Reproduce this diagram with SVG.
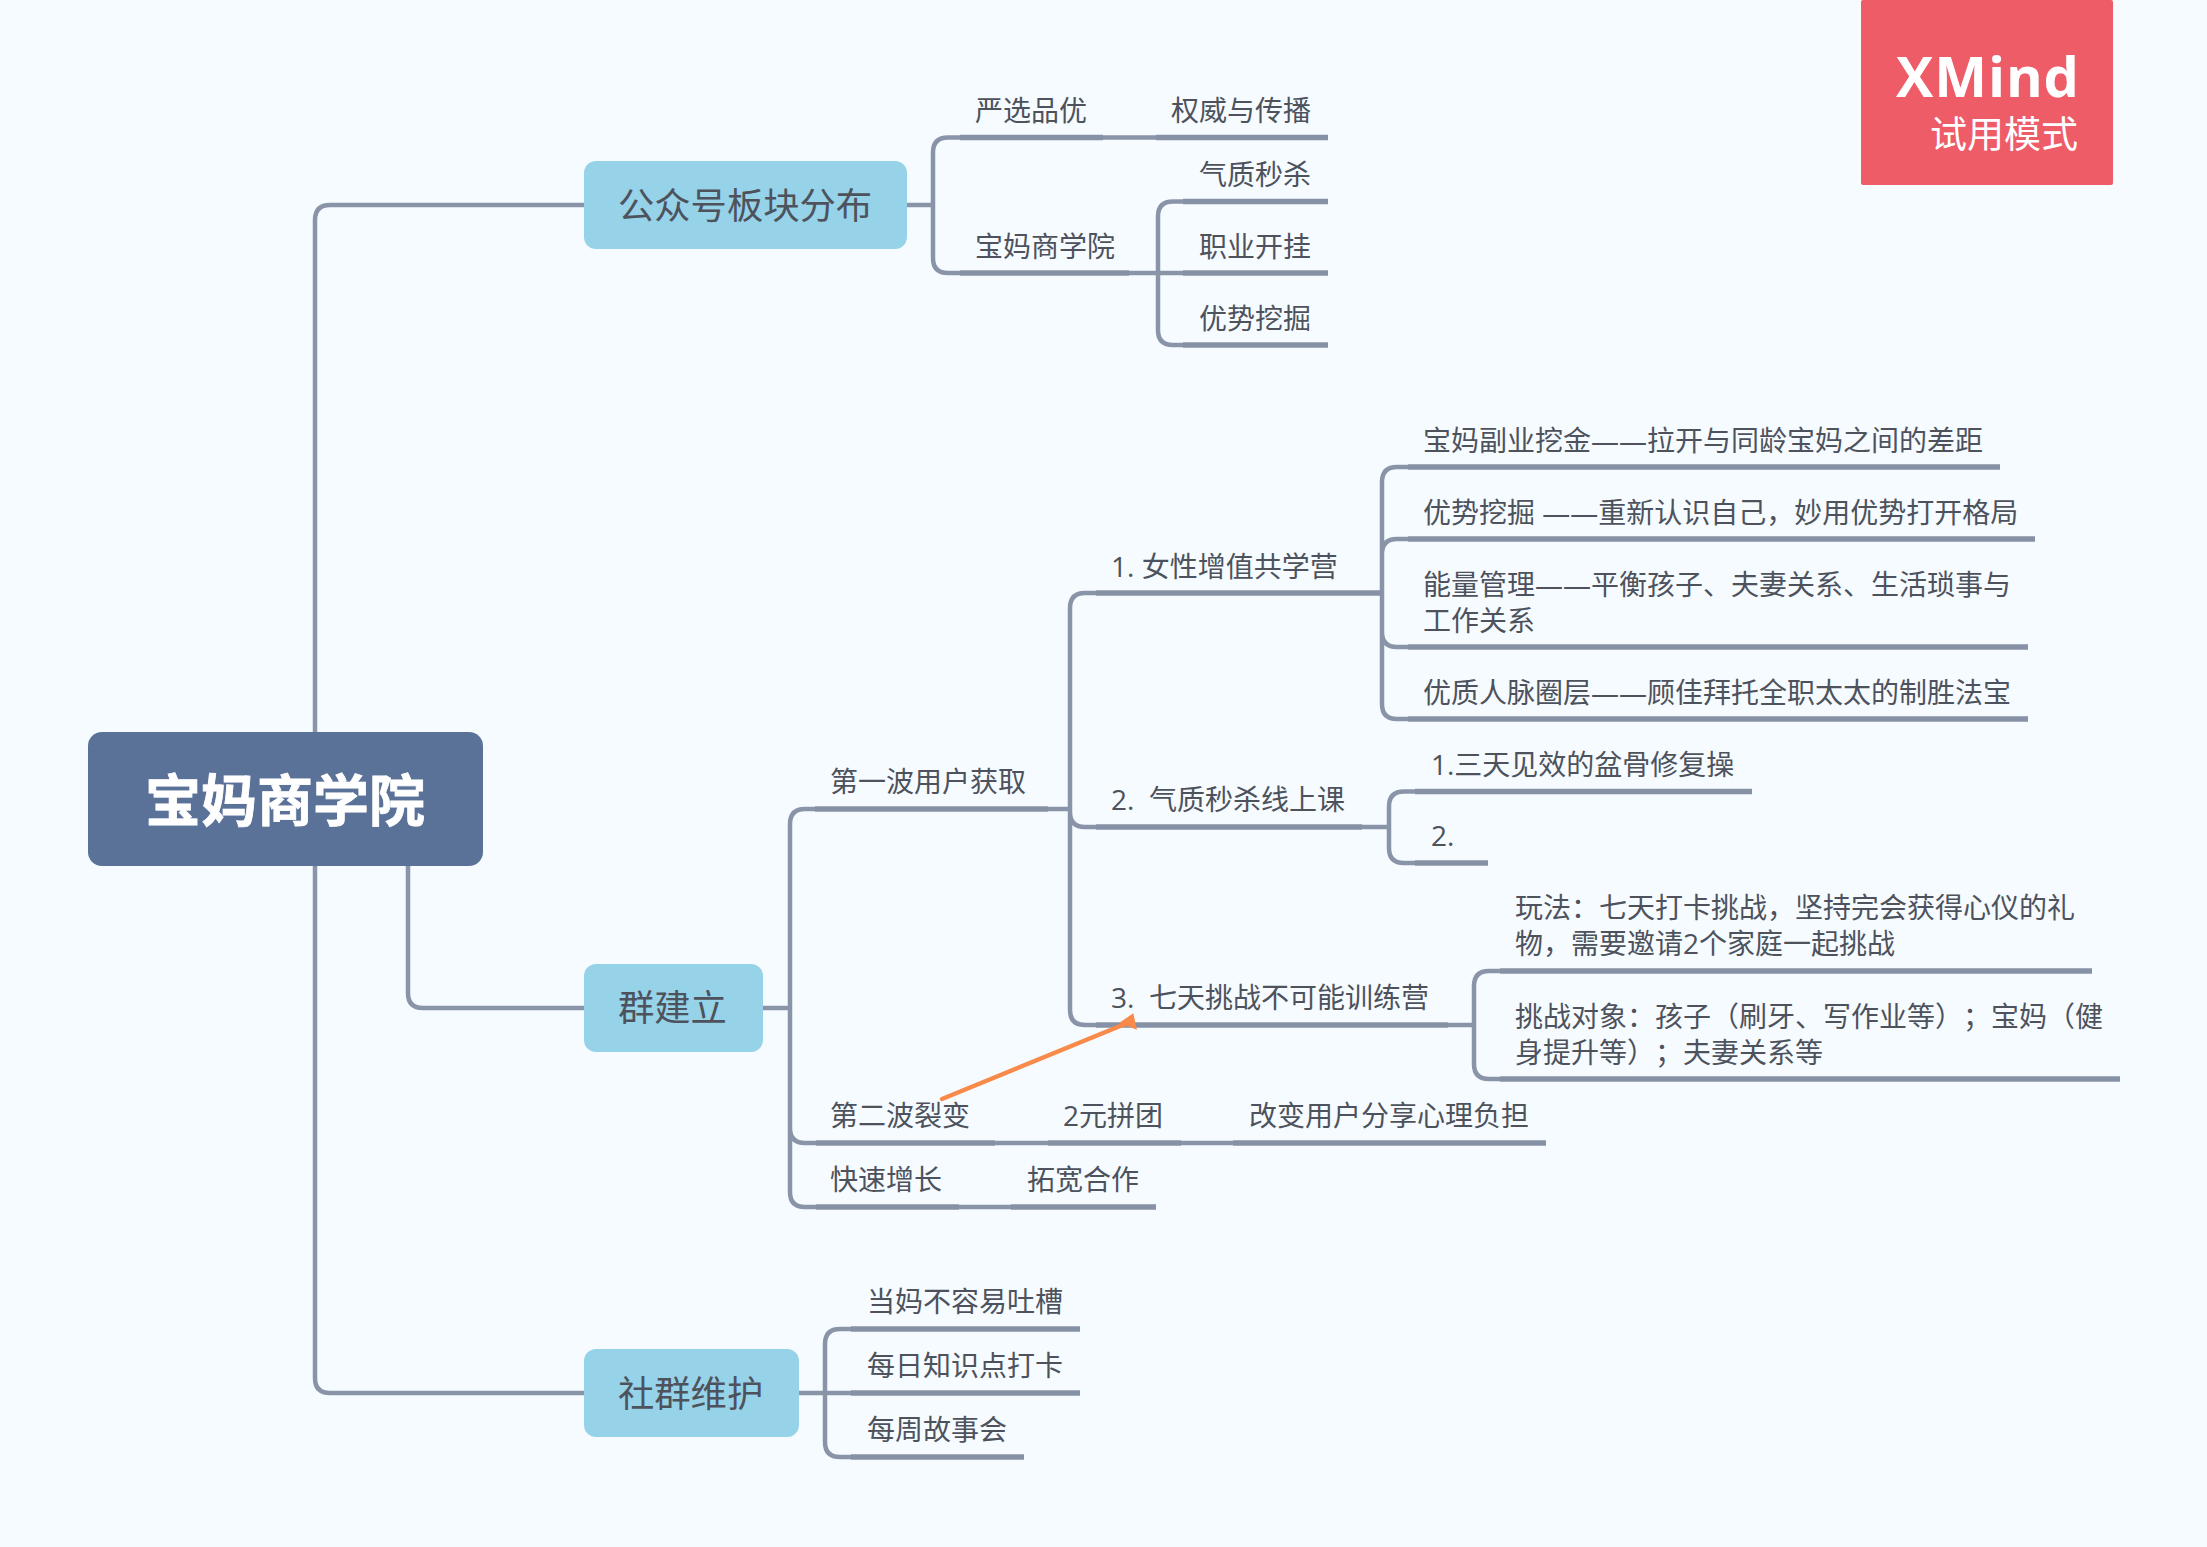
<svg xmlns="http://www.w3.org/2000/svg" width="2207" height="1547" viewBox="0 0 2207 1547">
<style>
text{font-family:"Open Sans","Noto Sans CJK SC",sans-serif;font-size:28px;fill:#4d525c;white-space:pre;text-spacing-trim:space-all}
.main{font-size:36.3px}
.root{font-size:56px;font-weight:700;fill:#fff;stroke:#fff;stroke-width:.8}
.link{fill:none;stroke:#8a94a9;stroke-width:4.5}
.under{fill:none;stroke:#8791a5;stroke-width:5.5;stroke-linecap:butt}
.rel{fill:none;stroke:#f88a4a;stroke-width:4.5;stroke-linecap:round}
.sub rect{fill:#96d2e8}
</style>
<defs>
<marker id="head" markerUnits="userSpaceOnUse" viewBox="-13 -12 26 24" refX="0" refY="0" markerWidth="26" markerHeight="24" orient="auto">
<path d="M6.4 -6.9L-10.5 -3.2L3.5 9.8Z" fill="#f88a4a"/>
</marker>
</defs>
<rect id="background" width="2207" height="1547" fill="#f5fbff"/>
<g id="connectors">
<g class="links">
<path class="link" d="M315 732V220Q315 205 330 205H584"/>
<path class="link" d="M408 866V993Q408 1008 423 1008H584"/>
<path class="link" d="M315 866V1378Q315 1393 330 1393H584"/>
<path class="link" d="M907 205H933M960 137.5H948Q933 137.5 933 152.5V258Q933 273 948 273H960"/>
<path class="link" d="M1103 137.5H1156M1129 273H1158M1183 201.5H1173Q1158 201.5 1158 216.5V330Q1158 345 1173 345H1183M1158 273H1183"/>
<path class="link" d="M763 1008H790M815 809H805Q790 809 790 824V1192Q790 1207 805 1207H816M790 1128Q790 1143 805 1143H816"/>
<path class="link" d="M1048 809H1070M1096 593H1085Q1070 593 1070 608V1010Q1070 1025 1085 1025H1096M1070 812Q1070 827 1085 827H1096"/>
<path class="link" d="M995 1143H1048M1181 1143H1233M959 1207H1011"/>
<path class="link" d="M1408 467H1397Q1382 467 1382 482V704Q1382 719 1397 719H1408M1382 554Q1382 539 1397 539H1408M1382 632Q1382 647 1397 647H1408"/>
<path class="link" d="M1360 827H1389M1415 791.5H1404Q1389 791.5 1389 806.5V848Q1389 863 1404 863H1415"/>
<path class="link" d="M1448 1025H1474M1500 971H1489Q1474 971 1474 986V1064Q1474 1079 1489 1079H1500"/>
<path class="link" d="M799 1393H851M851 1329H840Q825 1329 825 1344V1442Q825 1457 840 1457H851"/>
</g>
<g class="underlines">
<path class="under" d="M960 137.5H1103M1156 137.5H1328M960 273H1129M1183 201.5H1328M1183 273H1328M1183 345H1328"/>
<path class="under" d="M1096 593H1382M1408 467H2000M1408 539H2035M1408 647H2028M1408 719H2028"/>
<path class="under" d="M815 809H1048M1096 827H1362M1415 791.5H1752M1415 863H1488"/>
<path class="under" d="M1096 1025H1448M1500 971H2092M1500 1079H2120"/>
<path class="under" d="M816 1143H995M1048 1143H1181M1233 1143H1546M816 1207H959M1011 1207H1156"/>
<path class="under" d="M851 1329H1080M851 1393H1080M851 1457H1024"/>
</g>
<path id="relation" class="rel" d="M942 1099L1130 1022" marker-end="url(#head)"/>
</g>
<g id="root"><rect x="88" y="732" width="395" height="134" rx="14" fill="#5b7298"/><text class="root" x="145" y="821">宝妈商学院</text></g>
<g id="topic-gongzhonghao" class="sub"><rect x="584" y="161" width="323" height="88" rx="12"/><text class="main" x="618" y="219">公众号板块分布</text></g>
<g id="topic-qunjianli" class="sub"><rect x="584" y="964" width="179" height="88" rx="12"/><text class="main" x="618" y="1021">群建立</text></g>
<g id="topic-shequn" class="sub"><rect x="584" y="1349" width="215" height="88" rx="12"/><text class="main" x="618" y="1407">社群维护</text></g>
<g id="n-yanxuan"><text x="975" y="121">严选品优</text></g>
<g id="n-quanwei"><text x="1171" y="121">权威与传播</text></g>
<g id="n-baoma"><text x="975" y="257">宝妈商学院</text></g>
<g id="n-qizhi"><text x="1199" y="185">气质秒杀</text></g>
<g id="n-zhiye"><text x="1199" y="257">职业开挂</text></g>
<g id="n-youshi"><text x="1199" y="329">优势挖掘</text></g>
<g id="n-wave1"><text x="830" y="792">第一波用户获取</text></g>
<g id="n-camp1"><text x="1111" y="577">1. 女性增值共学营</text></g>
<g id="n-camp1a"><text x="1423" y="451">宝妈副业挖金——拉开与同龄宝妈之间的差距</text></g>
<g id="n-camp1b"><text x="1423" y="523">优势挖掘 ——重新认识自己，妙用优势打开格局</text></g>
<g id="n-camp1c"><text x="1423" y="595">能量管理——平衡孩子、夫妻关系、生活琐事与</text><text x="1423" y="631">工作关系</text></g>
<g id="n-camp1d"><text x="1423" y="703">优质人脉圈层——顾佳拜托全职太太的制胜法宝</text></g>
<g id="n-camp2"><text x="1111" y="810">2.  气质秒杀线上课</text></g>
<g id="n-camp2a"><text x="1431" y="775">1.三天见效的盆骨修复操</text></g>
<g id="n-camp2b"><text x="1431" y="846">2.</text></g>
<g id="n-camp3"><text x="1111" y="1008">3.  七天挑战不可能训练营</text></g>
<g id="n-camp3a"><text x="1515" y="918">玩法：七天打卡挑战，坚持完会获得心仪的礼</text><text x="1515" y="954">物，需要邀请2个家庭一起挑战</text></g>
<g id="n-camp3b"><text x="1515" y="1027">挑战对象：孩子（刷牙、写作业等）；宝妈（健</text><text x="1515" y="1063">身提升等）；夫妻关系等</text></g>
<g id="n-wave2"><text x="830" y="1126">第二波裂变</text></g>
<g id="n-pintuan"><text x="1063" y="1126">2元拼团</text></g>
<g id="n-gaibian"><text x="1249" y="1126">改变用户分享心理负担</text></g>
<g id="n-growth"><text x="830" y="1190">快速增长</text></g>
<g id="n-tuokuan"><text x="1027" y="1190">拓宽合作</text></g>
<g id="n-tucao"><text x="867" y="1312">当妈不容易吐槽</text></g>
<g id="n-daka"><text x="867" y="1376">每日知识点打卡</text></g>
<g id="n-gushi"><text x="867" y="1440">每周故事会</text></g>
<g id="watermark"><rect x="1861" y="0" width="252" height="185" rx="2" fill="#ee5c67"/><text x="1896" y="97" style="font-size:56px;font-weight:700;fill:#fff" textLength="183">XMind</text><text x="1930" y="148" style="font-size:37px;fill:#fff">试用模式</text></g>
</svg>
